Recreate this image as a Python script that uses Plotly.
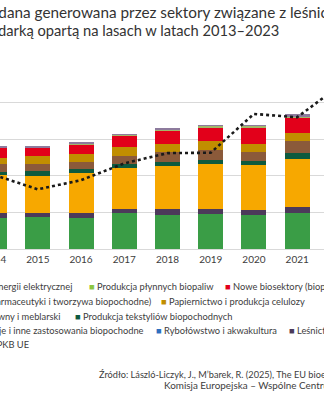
import plotly.graph_objects as go

# ---------------- data ----------------
years = [2014, 2015, 2016, 2017, 2018, 2019, 2020, 2021]
line_years = [2014, 2015, 2016, 2017, 2018, 2019, 2020, 2021, 2022]

rolnictwo = [171.4, 173.0, 171.4, 195.0, 186.2, 193.3, 187.8, 198.8]
lesnictwo = [24.6, 25.7, 27.4, 25.2, 31.8, 27.4, 27.9, 30.7]
zywnosc = [207.0, 200.4, 218.0, 224.5, 235.5, 243.7, 243.7, 261.2]
tekstylia = [18.0, 24.6, 18.0, 21.9, 21.9, 23.0, 21.9, 32.9]
drzewny = [42.2, 41.1, 41.1, 42.2, 53.7, 52.6, 48.2, 64.6]
papier = [32.9, 42.2, 42.2, 46.0, 43.8, 49.3, 46.5, 45.5]
nowe = [59.1, 46.5, 54.8, 67.4, 76.7, 72.8, 85.4, 84.9]
biopaliwa = [1.0, 1.0, 1.0, 1.0, 1.0, 11.0, 11.0, 1.5]
energia = [1.5, 11.0, 12.0, 1.5, 5.5, 1.5, 1.5, 17.5]
udzial_pkb = [2.02, 1.63, 1.88, 2.34, 2.62, 2.63, 3.69, 3.60, 4.48]

series = [
    ("Rolnictwo", rolnictwo, "#3a9d46"),
    ("Leśnictwo", lesnictwo, "#4c3a5a"),
    ("Żywność, napoje i inne zastosowania biopochodne", zywnosc, "#f7a800"),
    ("Produkcja tekstyliów biopochodnych", tekstylia, "#0e5a3e"),
    ("Przemysł drzewny i meblarski", drzewny, "#8b5a3a"),
    ("Papiernictwo i produkcja celulozy", papier, "#c18e00"),
    ("Nowe biosektory (biopochodne chemikalia, farmaceutyki i tworzywa biopochodne)", nowe, "#e2001a"),
    ("Produkcja płynnych biopaliw", biopaliwa, "#a3b86a"),
    ("Produkcja energii elektrycznej", energia, "#8d7b9d"),
]
LEGEND_GREEN = "#8cc63f"
BLUE = "#2e6fbf"

# ---------------- geometry ----------------
# The figure is wider than the window; it is shifted left so that only the
# central part (as in the reference crop) is visible.
SHIFT = 200
W, H = 700, 400
ML, MT, MB = SHIFT - 27, 66, 151
PLOT_W = 389
MR = W - ML - PLOT_W
PW, PH = W - ML - MR, H - MT - MB


def px_x(x):
    return (x + SHIFT - ML) / PW


def px_y(y):
    return (H - MB - y) / PH


FONT = "Lato"
TXT = "#3d3d3d"
LEG = 9.3

fig = go.Figure()
for name, vals, col in series:
    fig.add_trace(go.Bar(x=years, y=vals, name=name, marker=dict(color=col, line=dict(width=0))))

fig.add_trace(go.Scatter(x=line_years, y=udzial_pkb, name="Udział w PKB UE", yaxis="y2",
                         mode="lines", line=dict(color="#1a1a1a", width=2.6, dash="dot")))


def sq(c):
    return f'<span style="color:{c}">■</span>'


def ann(text, x, y, anchor, size=LEG, color=TXT):
    return dict(text=text, x=px_x(x), y=px_y(y), xref="paper", yref="paper",
                xanchor=anchor, yanchor="middle", showarrow=False, align="left",
                font=dict(family=FONT, size=size, color=color))


annotations = [
    # title
    ann("Wartość dodana generowana przez sektory związane z leśnictwem", -81, 12, "left", 15.3, "#333333"),
    ann("i gospodarką opartą na lasach w latach 2013–2023", 281, 30, "right", 14.7, "#333333"),
    # legend row 1
    ann(f"{sq('#3a9d46')} Rolnictwo   {sq('#8d7b9d')} Produkcja energii elektrycznej", 74, 286, "right"),
    ann(f"{sq(LEGEND_GREEN)} Produkcja płynnych biopaliw", 87, 286, "left"),
    ann(f"{sq('#e2001a')} Nowe biosektory (biopochodne chemikalia,", 223, 286, "left"),
    # row 2
    ann("farmaceutyki i tworzywa biopochodne)", 154, 301.5, "right"),
    ann(f"{sq('#c18e00')} Papiernictwo i produkcja celulozy", 159, 301.5, "left"),
    # row 3
    ann(f"{sq('#8b5a3a')} Przemysł drzewny i meblarski", 63, 316, "right"),
    ann(f"{sq('#0e5a3e')} Produkcja tekstyliów biopochodnych", 73, 316, "left"),
    # row 4
    ann(f"{sq('#f7a800')} Żywność, napoje i inne zastosowania biopochodne", 145.5, 330, "right"),
    ann(f"{sq(BLUE)} Rybołówstwo i akwakultura", 154, 330, "left"),
    ann(f"{sq('#4c3a5a')} Leśnictwo", 287, 330, "left"),
    # row 5
    ann('<span style="color:#1a1a1a">•••</span> Udział w PKB UE', 30.5, 344.5, "right"),
    # source
    ann("Źródło: László-Liczyk, J., M’barek, R. (2025), The EU bioeconomy monitoring system", 97, 374.5, "left", 9.2),
    ann("Komisja Europejska – Wspólne Centrum Badawcze", 162, 385, "left", 9.9),
]

fig.update_layout(
    width=W, height=H,
    margin=dict(l=ML, r=MR, t=MT, b=MB, pad=0),
    paper_bgcolor="white", plot_bgcolor="white",
    barmode="stack", bargap=0.42,
    showlegend=False,
    font=dict(family=FONT, color=TXT),
    xaxis=dict(range=[2013.5, 2022.5], tickmode="linear", tick0=2013, dtick=1,
               showgrid=False, zeroline=False, showline=False, ticks="",
               ticklabelstandoff=3,
               tickfont=dict(family=FONT, size=10, color=TXT)),
    yaxis=dict(range=[0, 1000], dtick=200, showgrid=True, gridcolor="#d9d9d9", gridwidth=1,
               zeroline=True, zerolinecolor="#d9d9d9", zerolinewidth=1,
               tickfont=dict(family=FONT, size=10, color=TXT)),
    yaxis2=dict(range=[0, 5], overlaying="y", side="right", showgrid=False, zeroline=False,
                tickfont=dict(family=FONT, size=10, color=TXT)),
    annotations=annotations,
)

post = ("var gd=document.getElementById('{plot_id}');"
        "gd.style.marginLeft='-%dpx';"
        "document.documentElement.style.overflow='hidden';"
        "document.body.style.overflow='hidden';"
        "document.body.style.margin='0';" % SHIFT)

fig.write_html("out.html", post_script=post)
